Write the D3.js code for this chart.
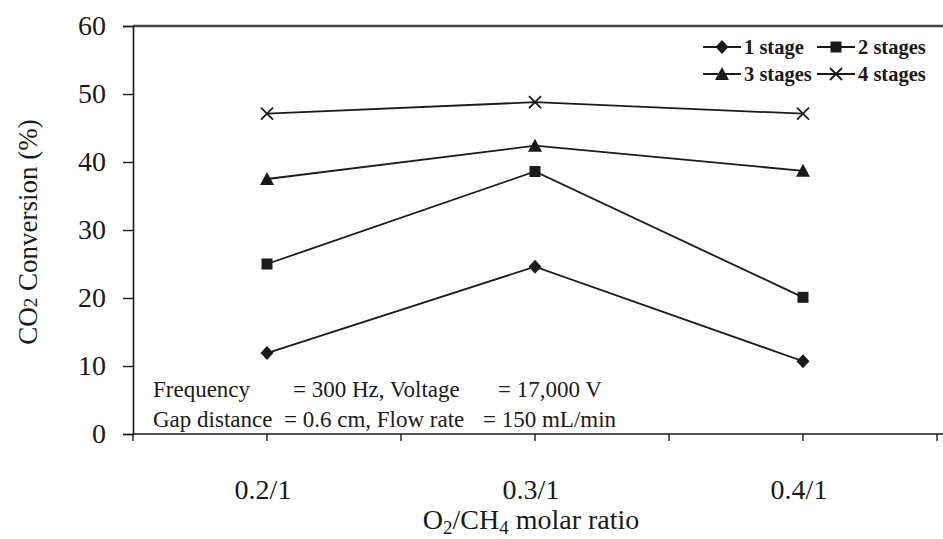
<!DOCTYPE html>
<html>
<head>
<meta charset="utf-8">
<script src="https://cdn.jsdelivr.net/npm/d3@7"></script>
<style>
  html, body { margin: 0; padding: 0; background: #fff; }
  svg { display: block; font-family: "Liberation Serif", "Times New Roman", serif; }
</style>
</head>
<body>
<svg id="chart" width="943" height="539"></svg>
<script>
// O2/CH4 molar ratio categories
const ratios = ["0.2/1", "0.3/1", "0.4/1"];
// CO2 conversion (%) per number of plasma stages
const stage1 = [11.9, 24.6, 10.7];
const stage2 = [25.0, 38.6, 20.1];
const stage3 = [37.5, 42.4, 38.7];
const stage4 = [47.1, 48.8, 47.1];
const seriesNames = ["1 stage", "2 stages", "3 stages", "4 stages"];
const seriesMarkers = ["diamond", "square", "triangle", "cross"];
const yTicks = [0, 10, 20, 30, 40, 50, 60];

const series = [stage1, stage2, stage3, stage4].map((vals, i) => ({
  name: seriesNames[i], marker: seriesMarkers[i], values: vals
}));

const svg = d3.select("#chart");
const ink = "#1a1a1a";

const plotL = 133, plotR = 937, plotT = 26, plotB = 434;

const x = d3.scaleBand().domain(ratios).range([plotL, plotR]).padding(0);
const y = d3.scaleLinear().domain([0, 60]).range([plotB, plotT]);

// frame line along the top, running to the right edge
svg.append("line").attr("x1", plotL).attr("x2", 943).attr("y1", plotT).attr("y2", plotT)
  .attr("stroke", "#444").attr("stroke-width", 2.5);

// y axis
const yAxis = svg.append("g").attr("transform", `translate(${plotL},0)`)
  .call(d3.axisLeft(y).tickValues(yTicks).tickSize(10).tickPadding(17));
yAxis.select(".domain").attr("stroke", ink).attr("stroke-width", 1.6);
yAxis.selectAll(".tick line").attr("stroke", ink).attr("stroke-width", 1.4);
yAxis.selectAll(".tick text").attr("font-size", 28).attr("fill", ink)
  .attr("font-family", "Liberation Serif");

// x axis: ticks at category centres and band boundaries
const xAxisG = svg.append("g");
xAxisG.append("line").attr("x1", plotL).attr("x2", 943).attr("y1", plotB).attr("y2", plotB)
  .attr("stroke", ink).attr("stroke-width", 1.6);
const tickXs = [];
ratios.forEach(r => { tickXs.push(x(r)); tickXs.push(x(r) + x.bandwidth() / 2); });
tickXs.push(x(ratios[ratios.length - 1]) + x.bandwidth());
xAxisG.selectAll("line.tk").data(tickXs).join("line").attr("class", "tk")
  .attr("x1", d => d).attr("x2", d => d).attr("y1", plotB).attr("y2", plotB + 7)
  .attr("stroke", ink).attr("stroke-width", 1.4);
xAxisG.selectAll("text.lbl").data(ratios).join("text").attr("class", "lbl")
  .attr("x", d => x(d) + x.bandwidth() / 2 - 4).attr("y", 499)
  .attr("text-anchor", "middle").attr("font-size", 28).attr("fill", ink).text(d => d);

// axis titles
const yt = svg.append("text").attr("transform", "translate(37,232) rotate(-90)")
  .attr("text-anchor", "middle").attr("font-size", 27).attr("fill", ink);
yt.append("tspan").text("CO");
yt.append("tspan").attr("font-size", 19).text("2");
yt.append("tspan").text(" Conversion (%)");

const xt = svg.append("text").attr("x", 531).attr("y", 529)
  .attr("text-anchor", "middle").attr("font-size", 28).attr("fill", ink);
xt.append("tspan").text("O");
xt.append("tspan").attr("font-size", 19).attr("dy", 5).text("2");
xt.append("tspan").attr("dy", -5).text("/CH");
xt.append("tspan").attr("font-size", 19).attr("dy", 5).text("4");
xt.append("tspan").attr("dy", -5).text(" molar ratio");

// marker shapes
function drawMarker(g, type, cx, cy) {
  if (type === "diamond") {
    g.append("path").attr("d", `M${cx},${cy - 7}L${cx + 6.5},${cy}L${cx},${cy + 7}L${cx - 6.5},${cy}Z`)
      .attr("fill", ink);
  } else if (type === "square") {
    g.append("rect").attr("x", cx - 5.5).attr("y", cy - 5.5).attr("width", 11).attr("height", 11)
      .attr("fill", ink);
  } else if (type === "triangle") {
    g.append("path").attr("d", `M${cx},${cy - 7}L${cx + 7},${cy + 6}L${cx - 7},${cy + 6}Z`)
      .attr("fill", ink);
  } else {
    g.append("path").attr("d", `M${cx - 6},${cy - 6}L${cx + 6},${cy + 6}M${cx - 6},${cy + 6}L${cx + 6},${cy - 6}`)
      .attr("stroke", ink).attr("stroke-width", 1.8).attr("fill", "none");
  }
}

const line = d3.line().x((d, i) => x(ratios[i]) + x.bandwidth() / 2).y(d => y(d));

series.forEach(s => {
  const g = svg.append("g");
  g.append("path").attr("d", line(s.values)).attr("fill", "none")
    .attr("stroke", ink).attr("stroke-width", 1.8);
  s.values.forEach((v, i) => drawMarker(g, s.marker, x(ratios[i]) + x.bandwidth() / 2, y(v)));
});

// legend, two columns by two rows
const legendPos = [[703, 47], [817, 47], [703, 74], [817, 74]];
series.forEach((s, i) => {
  const [lx, ly] = legendPos[i];
  const g = svg.append("g");
  g.append("line").attr("x1", lx).attr("x2", lx + 38).attr("y1", ly).attr("y2", ly)
    .attr("stroke", ink).attr("stroke-width", 1.8);
  drawMarker(g, s.marker, lx + 19, ly);
  g.append("text").attr("x", lx + 41).attr("y", ly + 7).attr("font-size", 20.5)
    .attr("font-weight", "bold").attr("fill", ink).text(s.name);
});

// operating conditions note
const note = [
  [[153, "Frequency"], [293, "= 300 Hz, Voltage"], [498, "= 17,000 V"]],
  [[153, "Gap distance"], [284, "= 0.6 cm, Flow rate"], [483, "= 150 mL/min"]]
];
note.forEach((row, r) => {
  row.forEach(([nx, t]) => {
    svg.append("text").attr("x", nx).attr("y", 397 + r * 30).attr("font-size", 23)
      .attr("fill", ink).text(t);
  });
});
</script>
</body>
</html>
